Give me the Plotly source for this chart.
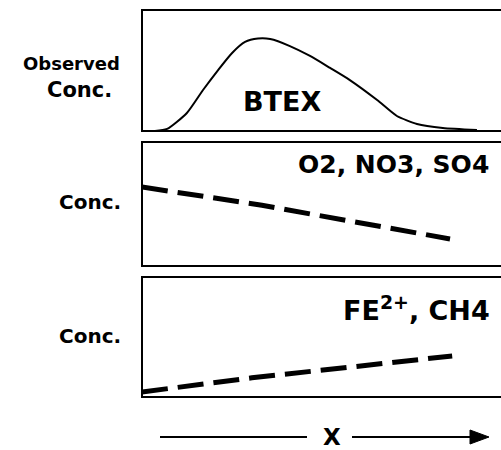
import plotly.graph_objects as go

W, H = 540, 450   # figure wider than the 501px window so the open right side is cut off

# ---- data (distance in arbitrary units, concentrations normalised) ----
distance_btex = [0, 3.6, 7.0, 12.5, 17.0, 21.2, 25.1, 28.7, 32.3, 35.7, 41.2, 46.8,
                 52.4, 57.9, 65.5, 71.0, 76.6, 83.8, 93.3]
btex_conc = [0, 0.0, 0.017, 0.149, 0.339, 0.504, 0.645, 0.736, 0.764, 0.760, 0.702,
             0.620, 0.521, 0.421, 0.256, 0.124, 0.058, 0.025, 0.008]

distance_acceptor = [0, 33.4, 85.8]
acceptor_conc = [0.637, 0.49, 0.218]

distance_byproduct = [0, 30.6, 86.4]
byproduct_conc = [0.042, 0.16, 0.342]

panel_labels = ["BTEX", "O2, NO3, SO4", "FE<sup>2+</sup>, CH4"]
y_titles = ["Conc.", "Conc."]

X_LEFT = 142
X_SPAN = 100 * 3.59   # 100 distance units = 359 px


def px(x):
    return x / W


def py(y):
    return 1 - y / H


FONT = "DejaVu Sans"
fig = go.Figure()

fig.add_trace(go.Scatter(x=distance_btex, y=btex_conc, mode="lines",
                         line=dict(color="black", width=2, shape="spline", smoothing=0.6),
                         xaxis="x", yaxis="y", showlegend=False, hoverinfo="skip"))
fig.add_trace(go.Scatter(x=distance_acceptor, y=acceptor_conc, mode="lines",
                         line=dict(color="black", width=5, dash="26px,10px"),
                         xaxis="x2", yaxis="y2", showlegend=False, hoverinfo="skip"))
fig.add_trace(go.Scatter(x=distance_byproduct, y=byproduct_conc, mode="lines",
                         line=dict(color="black", width=5, dash="26px,10px"),
                         xaxis="x3", yaxis="y3", showlegend=False, hoverinfo="skip"))

xdom = [px(X_LEFT), 1.0]
xmax = 100 * (W - X_LEFT) / X_SPAN
doms = [(10, 131), (142, 266), (277, 397)]
layout = dict(width=W, height=H, margin=dict(l=0, r=0, t=0, b=0),
              paper_bgcolor="white", plot_bgcolor="white", showlegend=False)
shapes = []
for i, (top, bot) in enumerate(doms):
    sfx = "" if i == 0 else str(i + 1)
    layout["xaxis" + sfx] = dict(domain=xdom, range=[0, xmax], showline=False,
                                 showgrid=False, zeroline=False, showticklabels=False,
                                 ticks="", anchor="y" + sfx)
    layout["yaxis" + sfx] = dict(domain=[py(bot), py(top)], range=[0, 1], showline=False,
                                 showgrid=False, zeroline=False, showticklabels=False,
                                 ticks="", anchor="x" + sfx)
    # open-ended panel frame: top, left and bottom sides
    shapes.append(dict(type="path", xref="paper", yref="paper",
                       path=f"M 1.2 {py(top)} L {px(X_LEFT)} {py(top)} L {px(X_LEFT)} {py(bot)} L 1.2 {py(bot)}",
                       line=dict(color="black", width=2)))
fig.update_layout(**layout)


def txt(x, y, text, size, xanchor="center", xref="paper", yref="paper"):
    return dict(x=x, y=y, xref=xref, yref=yref, text=text, xanchor=xanchor,
                yanchor="middle", showarrow=False,
                font=dict(family=FONT, size=size, color="black"))


ann = [
    txt(39, 0.24, "<b>" + panel_labels[0] + "</b>", 27, xref="x", yref="y"),
    txt(43.0, 0.82, "<b>" + panel_labels[1] + "</b>", 25, xanchor="left", xref="x2", yref="y2"),
    txt(55.5, 0.74, "<b>" + panel_labels[2] + "</b>", 27, xanchor="left", xref="x3", yref="y3"),
    txt(px(71), py(63), "<b>Observed</b>", 18),
    txt(px(79), py(90), "<b>Conc.</b>", 21),
    txt(px(123), py(202), "<b>" + y_titles[0] + "</b>", 20, xanchor="right"),
    txt(px(123), py(336), "<b>" + y_titles[1] + "</b>", 20, xanchor="right"),
    txt(px(332), py(437), "<b>X</b>", 23),
]
fig.update_layout(annotations=ann)

shapes += [
    dict(type="line", xref="paper", yref="paper", x0=px(160), x1=px(307), y0=py(437), y1=py(437),
         line=dict(color="black", width=2)),
    dict(type="line", xref="paper", yref="paper", x0=px(352), x1=px(472), y0=py(437), y1=py(437),
         line=dict(color="black", width=2)),
    dict(type="path", xref="paper", yref="paper",
         path=f"M {px(470)} {py(430)} L {px(489)} {py(437)} L {px(470)} {py(444)} Z",
         fillcolor="black", line=dict(color="black", width=1)),
]
fig.update_layout(shapes=shapes)

fig.write_html("out.html", config={"displayModeBar": False},
               post_script="document.body.style.margin='0';document.body.style.overflow='hidden';")
